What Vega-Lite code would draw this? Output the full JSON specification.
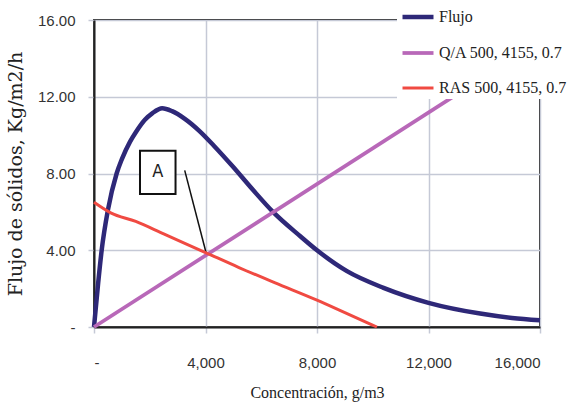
{
  "$schema": "https://vega.github.io/schema/vega-lite/v6.json",
  "autosize": {"type": "none"},
  "padding": {"left": 94, "top": 20, "right": 27, "bottom": 82},
  "width": 446,
  "height": 307,
  "background": "white",
  "config": {
    "view": {"stroke": "#222", "strokeWidth": 2},
    "axis": {
      "gridColor": "#c5c9d6",
      "gridWidth": 1.5,
      "tickColor": "#c5c9d6",
      "tickWidth": 1.5,
      "tickSize": 6,
      "domainColor": "#222",
      "domainWidth": 2,
      "labelFont": "Liberation Sans",
      "labelFontSize": 15,
      "labelColor": "#333",
      "titleColor": "#222",
      "titleFontWeight": "normal"
    },
    "legend": {
      "orient": "none",
      "legendX": 303,
      "legendY": -24,
      "fillColor": "white",
      "padding": 3,
      "symbolType": "stroke",
      "symbolSize": 961,
      "rowPadding": 9.5,
      "labelFont": "Liberation Serif",
      "labelFontSize": 16,
      "labelColor": "#222",
      "labelOffset": 3,
      "title": null,
      "labelLimit": 400
    }
  },
  "datasets": {
    "series": [
      {"C": 0, "G": 0, "s": "Flujo"},
      {"C": 150, "G": 2.3, "s": "Flujo"},
      {"C": 275, "G": 4.0, "s": "Flujo"},
      {"C": 500, "G": 6.1, "s": "Flujo"},
      {"C": 812, "G": 8.0, "s": "Flujo"},
      {"C": 1000, "G": 8.75, "s": "Flujo"},
      {"C": 1290, "G": 9.65, "s": "Flujo"},
      {"C": 1500, "G": 10.15, "s": "Flujo"},
      {"C": 1826, "G": 10.8, "s": "Flujo"},
      {"C": 2100, "G": 11.15, "s": "Flujo"},
      {"C": 2446, "G": 11.4, "s": "Flujo"},
      {"C": 2800, "G": 11.25, "s": "Flujo"},
      {"C": 3258, "G": 10.85, "s": "Flujo"},
      {"C": 3795, "G": 10.2, "s": "Flujo"},
      {"C": 4300, "G": 9.45, "s": "Flujo"},
      {"C": 4988, "G": 8.35, "s": "Flujo"},
      {"C": 5700, "G": 7.15, "s": "Flujo"},
      {"C": 6420, "G": 6.0, "s": "Flujo"},
      {"C": 7401, "G": 4.73, "s": "Flujo"},
      {"C": 8000, "G": 4.0, "s": "Flujo"},
      {"C": 9075, "G": 2.91, "s": "Flujo"},
      {"C": 10387, "G": 2.04, "s": "Flujo"},
      {"C": 12000, "G": 1.26, "s": "Flujo"},
      {"C": 13852, "G": 0.7, "s": "Flujo"},
      {"C": 15000, "G": 0.47, "s": "Flujo"},
      {"C": 16000, "G": 0.35, "s": "Flujo"},
      {"C": 0, "G": 0, "s": "Q/A 500, 4155, 0.7"},
      {"C": 16000, "G": 14.9, "s": "Q/A 500, 4155, 0.7"},
      {"C": 0, "G": 6.5, "s": "RAS 500, 4155, 0.7"},
      {"C": 600, "G": 5.95, "s": "RAS 500, 4155, 0.7"},
      {"C": 1500, "G": 5.5, "s": "RAS 500, 4155, 0.7"},
      {"C": 2500, "G": 4.85, "s": "RAS 500, 4155, 0.7"},
      {"C": 4000, "G": 3.88, "s": "RAS 500, 4155, 0.7"},
      {"C": 5200, "G": 3.1, "s": "RAS 500, 4155, 0.7"},
      {"C": 6500, "G": 2.3, "s": "RAS 500, 4155, 0.7"},
      {"C": 8000, "G": 1.4, "s": "RAS 500, 4155, 0.7"},
      {"C": 9000, "G": 0.75, "s": "RAS 500, 4155, 0.7"},
      {"C": 10150, "G": 0, "s": "RAS 500, 4155, 0.7"}
    ]
  },
  "layer": [
    {
      "data": {"values": [{"x1": 3254, "y1": 8.16, "x2": 4021, "y2": 3.87}]},
      "mark": {"type": "rule", "color": "#111", "strokeWidth": 1.5},
      "encoding": {
        "x": {"field": "x1", "type": "quantitative"},
        "x2": {"field": "x2"},
        "y": {"field": "y1", "type": "quantitative"},
        "y2": {"field": "y2"}
      }
    },
    {
      "data": {"values": [{"x1": 1650, "x2": 2925, "y1": 6.93, "y2": 9.19}]},
      "mark": {"type": "rect", "fill": "white", "stroke": "#111", "strokeWidth": 2},
      "encoding": {
        "x": {"field": "x1", "type": "quantitative"},
        "x2": {"field": "x2"},
        "y": {"field": "y1", "type": "quantitative"},
        "y2": {"field": "y2"}
      }
    },
    {
      "data": {"values": [{"x": 2290, "y": 8.08, "t": "A"}]},
      "mark": {"type": "text", "font": "Liberation Sans Narrow, DejaVu Sans Condensed, Liberation Sans, sans-serif", "fontSize": 18, "color": "#222", "baseline": "middle", "align": "center"},
      "encoding": {
        "x": {"field": "x", "type": "quantitative"},
        "y": {"field": "y", "type": "quantitative"},
        "text": {"field": "t"}
      }
    },
    {
      "data": {"name": "series"},
      "mark": {"type": "line", "interpolate": "monotone"},
      "encoding": {
        "x": {
          "field": "C", "type": "quantitative",
          "scale": {"domain": [0, 16000], "nice": false},
          "axis": {
            "values": [0, 4000, 8000, 12000, 16000],
            "labelExpr": "datum.value == 0 ? '-' : format(datum.value, ',d')",
            "labelPadding": 22,
            "title": "Concentración, g/m3",
            "titleFont": "Liberation Serif",
            "titleFontSize": 16,
            "titlePadding": 14
          }
        },
        "y": {
          "field": "G", "type": "quantitative",
          "scale": {"domain": [0, 16], "nice": false},
          "axis": {
            "values": [0, 4, 8, 12, 16],
            "labelExpr": "datum.value == 0 ? '-\u00a0\u00a0\u00a0\u00a0' : format(datum.value, ',.2f')",
            "labelPadding": 13,
            "title": "Flujo de sólidos, Kg/m2/h",
            "titleFont": "DejaVu Serif",
            "titleFontSize": 19,
            "titlePadding": 12
          }
        },
        "color": {
          "field": "s", "type": "nominal",
          "scale": {
            "domain": ["Flujo", "Q/A 500, 4155, 0.7", "RAS 500, 4155, 0.7"],
            "range": ["#2e2878", "#b868b8", "#f04a42"]
          }
        },
        "strokeWidth": {
          "field": "s", "type": "nominal",
          "scale": {
            "domain": ["Flujo", "Q/A 500, 4155, 0.7", "RAS 500, 4155, 0.7"],
            "range": [4.5, 3, 2]
          }
        }
      }
    }
  ]
}
